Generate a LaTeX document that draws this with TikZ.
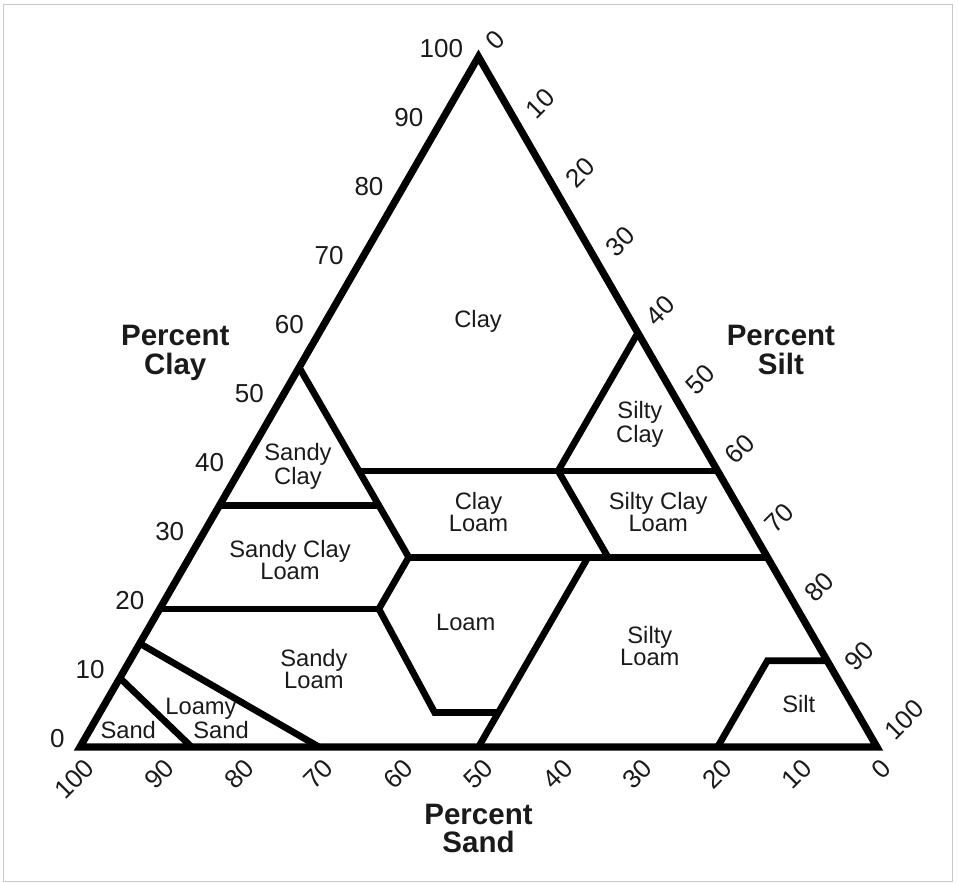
\documentclass[tikz,border=0pt]{standalone}
\usepackage{fontspec}
\setmainfont{Liberation Sans}
\definecolor{frame}{HTML}{C8C8C8}
\definecolor{ink}{HTML}{1A1A1A}

\begin{document}
\begin{tikzpicture}[x={(0.1594cm,0cm)},y={(0.0797cm,0.13804cm)},
   outline/.style={line width=4.1pt,line join=miter},
   boundary/.style={line width=3.8pt,line join=miter},
   zone/.style={align=center,inner sep=0pt,text=ink,font=\fontsize{13.5}{12.5}\selectfont},
   axistitle/.style={align=center,inner sep=0pt,text=ink,font=\fontsize{16.8}{16.1}\selectfont\bfseries},
   clayno/.style={anchor=east,inner sep=0pt,xshift=-0.30cm,yshift=0.17cm,text=ink,font=\fontsize{14.8}{16}\selectfont},
   siltno/.style={anchor=west,inner sep=0pt,xshift=0.235cm,yshift=0.235cm,rotate=45,text=ink,font=\fontsize{14.8}{16}\selectfont},
   sandno/.style={anchor=east,inner sep=0pt,xshift=0.2cm,yshift=-0.325cm,rotate=45,text=ink,font=\fontsize{14.8}{16}\selectfont}]
  \useasboundingbox (-1.6cm,-2.72cm) rectangle (17.56cm,14.94cm);
  \draw[frame,line width=0.85pt] (-1.534cm,-2.694cm) rectangle (17.446cm,14.854cm);
  % coordinates are (silt, clay)
  % --- class boundaries ---
  \draw[boundary] (0,55) -- (27.5,27.5);
  \draw[boundary] (15,40) -- (60,40);
  \draw[boundary] (0,35) -- (20,35);
  \draw[boundary] (27.5,27.5) -- (72.5,27.5);
  \draw[boundary] (40,60) -- (40,40) -- (52.5,27.5);
  \draw[boundary] (27.5,27.5) -- (27.5,20) -- (42,5) -- (50,5);
  \draw[boundary] (0,20) -- (27.5,20);
  \draw[boundary] (50,0) -- (50,27.5);
  \draw[boundary] (80,0) -- (80,12.5) -- (87.5,12.5);
  \draw[boundary] (0,15) -- (30,0);
  \draw[boundary] (0,10) -- (14,0);
  % --- triangle ---
  \draw[outline] (0,0) -- (100,0) -- (0,100) -- cycle;
  % --- class names ---
  \node[zone] (clay)     at (19.1,61.7) {Clay};
  \node[zone] (sclay)    at (7.0,40.7)  {Sandy\\Clay};
  \node[zone] (clloam)   at (33.0,34.0) {Clay\\Loam};
  \node[zone] (scloam)   at (12.8,27.1) {Sandy Clay\\Loam};
  \node[zone] (siclay)   at (46.9,46.7) {Silty\\Clay};
  \node[zone] (sicloam)  at (55.5,34.1) {Silty Clay\\Loam};
  \node[zone] (loam)     at (39.4,18.0) {Loam};
  \node[zone] (sloam)    at (23.7,11.3) {Sandy\\Loam};
  \node[zone,align=left] (lsand) at (13.9,4.1) {Loamy\\\hspace*{0.56cm}Sand};
  \node[zone] (sand)     at (4.8,2.5)   {Sand};
  \node[zone] (siloam)   at (64.2,14.6) {Silty\\Loam};
  \node[zone] (silt)     at (87.1,6.2)  {Silt};
  % --- scales ---
  \foreach \c in {0,10,...,100}
    \node[clayno] (clay\c) at (0,\c) {\c};
  \foreach \s in {0,10,...,100}
    \node[siltno] (silt\s) at (\s,{100-\s}) {\s};
  \foreach \s in {0,10,...,100}
    \node[sandno] (sand\s) at ({100-\s},0) {\s};
  \node[axistitle] (claytitle) at (-16.6,57.1) {Percent\\Clay};
  \node[axistitle] (silttitle) at (59.2,57.5) {Percent\\Silt};
  \node[axistitle] (sandtitle) at (55.9,-11.8) {Percent\\Sand};
\end{tikzpicture}
\end{document}
